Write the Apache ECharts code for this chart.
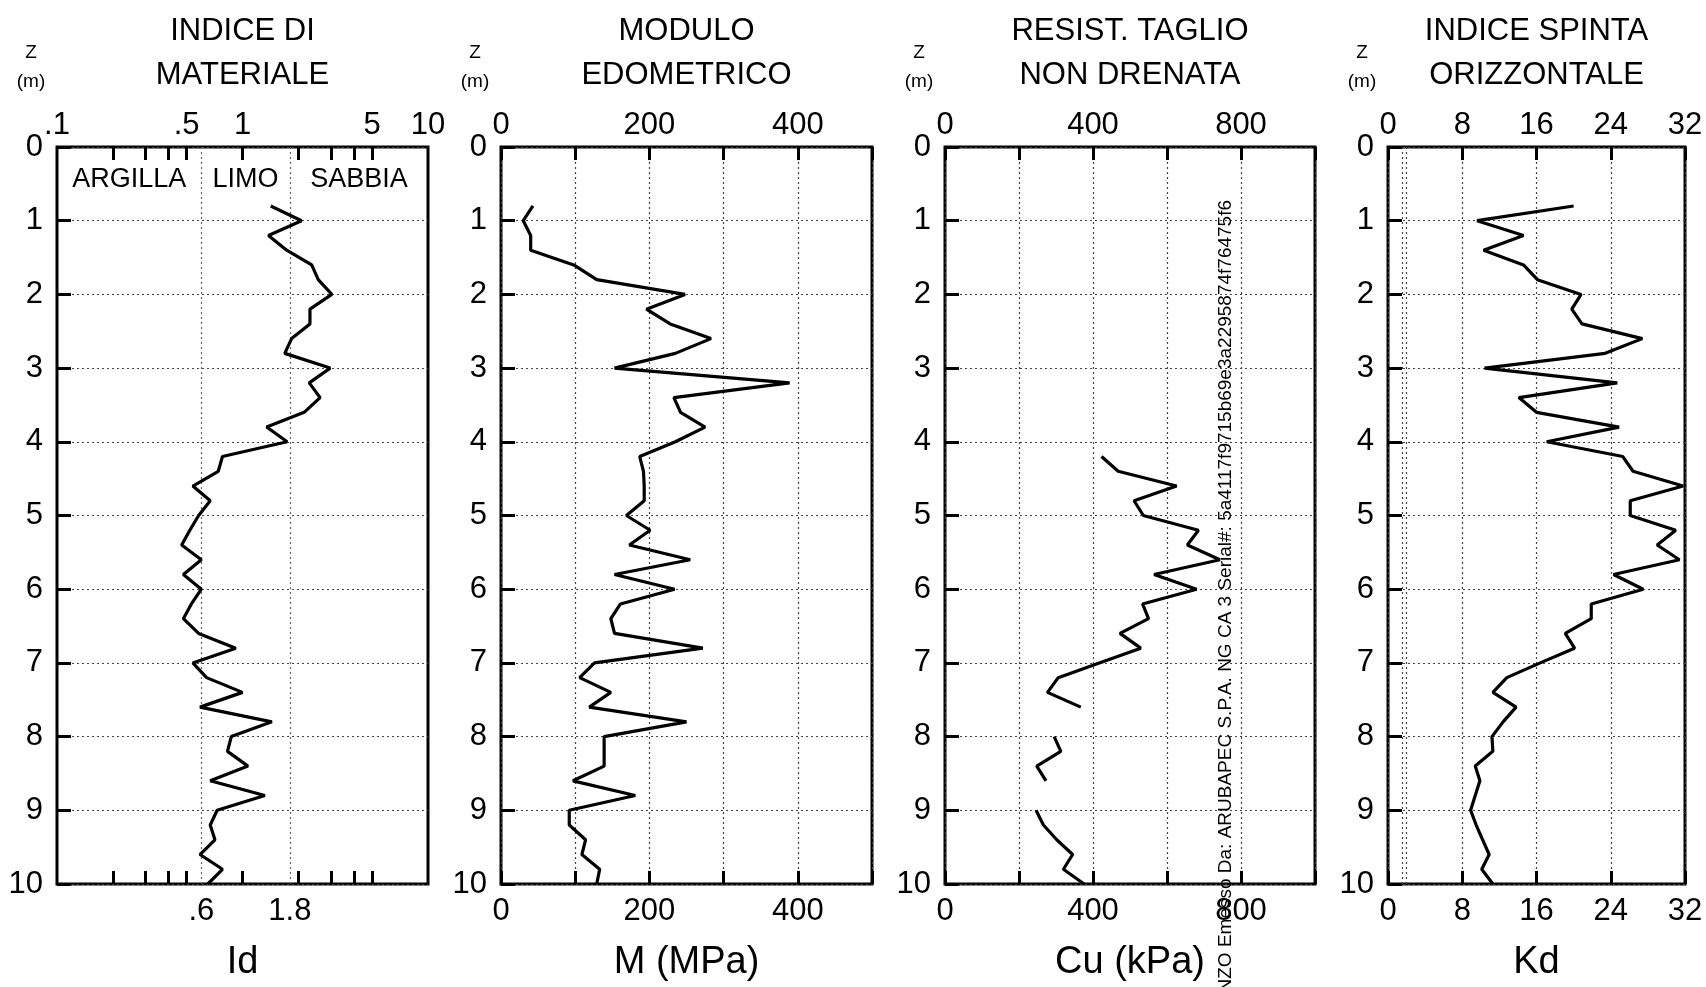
<!DOCTYPE html>
<html>
<head>
<meta charset="utf-8">
<title>Prova DMT</title>
<script src="https://cdn.jsdelivr.net/npm/echarts@6/dist/echarts.min.js"></script>
<style>
  html, body { margin: 0; padding: 0; background: #fff; }
  #chart { width: 1706px; height: 987px; }
</style>
</head>
<body>
<div id="chart"></div>
<script>
// profondita' (m)
const depth = [0.8, 1.0, 1.2, 1.4, 1.6, 1.8, 2.0, 2.2, 2.4, 2.6, 2.8, 3.0, 3.2, 3.4, 3.6, 3.8, 4.0,
  4.2, 4.4, 4.6, 4.8, 5.0, 5.2, 5.4, 5.6, 5.8, 6.0, 6.2, 6.4, 6.6, 6.8, 7.0, 7.2, 7.4, 7.6, 7.8,
  8.0, 8.2, 8.4, 8.6, 8.8, 9.0, 9.2, 9.4, 9.6, 9.8, 10.0]

// indice di materiale Id
const idValues = [1.42, 2.08, 1.38, 1.73, 2.36, 2.56, 3.03, 2.31, 2.31, 1.84, 1.69, 2.97, 2.29, 2.62, 2.15, 1.35, 1.74,
  0.78, 0.74, 0.54, 0.67, 0.58, 0.52, 0.47, 0.60, 0.48, 0.60, 0.53, 0.48, 0.58, 0.92, 0.54, 0.64, 1.00, 0.59, 1.44,
  0.87, 0.83, 1.07, 0.67, 1.32, 0.73, 0.67, 0.71, 0.59, 0.78, 0.65]

// modulo edometrico M (MPa)
const mValues = [43, 30, 40, 40, 98, 129, 248, 196, 228, 283, 235, 153, 389, 233, 242, 275, 235,
  187, 192, 193, 193, 169, 201, 173, 255, 153, 234, 161, 148, 153, 272, 126, 106, 148, 119, 250,
  139, 139, 139, 97, 181, 92, 92, 114, 109, 133, 129]

// resistenza al taglio non drenata Cu (kPa), null = non calcolata
const cuValues = [null, null, null, null, null, null, null, null, null, null, null, null, null, null, null, null, null,
  423, 468, 626, 511, 536, 685, 655, 743, 565, 680, 534, 550, 473, 529, 417, 306, 277, 367, null,
  295, 313, 248, 273, null, 246, 266, 302, 345, 320, 376]

// indice di spinta orizzontale Kd
const kdValues = [20.0, 9.6, 14.6, 10.3, 14.6, 16.1, 20.8, 19.8, 20.9, 27.4, 23.4, 10.4, 24.7, 14.1, 16.0, 24.9, 17.1,
  25.3, 26.4, 31.8, 26.1, 26.1, 31.0, 29.0, 31.4, 24.3, 27.5, 21.9, 21.9, 19.1, 20.1, 16.4, 12.8, 11.3, 13.8, 12.4,
  11.2, 11.3, 9.4, 9.9, 9.4, 8.9, 9.5, 10.2, 10.9, 10.1, 11.3]

// scala logaritmica Id: tacche ed etichette
const idTicks = [0.2, 0.3, 0.4, 0.5, 1, 2, 3, 4, 5]
const idTopLabels = [0.1, 0.5, 1, 5, 10]
const idBottomLabels = [0.6, 1.8]
const idZones = [['ARGILLA', 0.1, 0.6], ['LIMO', 0.6, 1.8], ['SABBIA', 1.8, 10]]
const kdRefLines = [1.5, 2]

const titles = [['INDICE DI', 'MATERIALE'], ['MODULO', 'EDOMETRICO'], ['RESIST. TAGLIO', 'NON DRENATA'], ['INDICE SPINTA', 'ORIZZONTALE']]
const axisNames = ['Id', 'M (MPa)', 'Cu (kPa)', 'Kd']
const watermark = 'ENZO Emesso Da: ARUBAPEC S.P.A. NG CA 3 Serial#: 5a4117f9715b69e3a2295874f76475f6'

const FONT = "'Liberation Sans', Arial, sans-serif"
const TOP = 147
const HEIGHT = 738
const panels = [
  { left: 57, width: 371 },
  { left: 501, width: 371 },
  { left: 945, width: 370 },
  { left: 1388, width: 297 }
]

const toPairs = (vals) => depth.map((z, i) => (vals[i] == null ? ['-', z] : [vals[i], z]))
const fmtId = (v) => {
  const n = +Number(v).toPrecision(3)
  return n < 1 ? String(n).replace(/^0/, '') : String(n)
}

const dotted = { color: '#444', type: [2, 3], width: 1.2 }
const tickStyle = { inside: true, length: 13, lineStyle: { color: '#000', width: 3 } }
const labelStyle = { color: '#000', fontSize: 31, fontFamily: FONT }

const grid = panels.map((p) => ({
  left: p.left, top: TOP, width: p.width, height: HEIGHT,
  show: true, borderColor: '#000', borderWidth: 3, backgroundColor: '#fff'
}))

const yAxis = panels.map((p, gi) => ({
  type: 'value', gridIndex: gi, inverse: true, min: 0, max: 10, interval: 1,
  axisLine: { show: false },
  axisTick: { inside: true, length: 14, lineStyle: { color: '#000', width: 3 } },
  axisLabel: { ...labelStyle, margin: 14 },
  splitLine: { show: true, lineStyle: dotted }
}))

const valueScales = [
  null,
  { max: 500, interval: 100, step: 200 },
  { max: 1000, interval: 200, step: 400 },
  { max: 32, interval: 8, step: 8 }
]

const xAxis = []
panels.forEach((p, gi) => {
  ['top', 'bottom'].forEach((pos) => {
    const isTop = pos === 'top'
    const ax = {
      gridIndex: gi, position: pos,
      axisLine: { show: false },
      axisLabel: { ...labelStyle, margin: isTop ? 6 : 12 },
      axisTick: { ...tickStyle }
    }
    if (!isTop) {
      ax.name = axisNames[gi]
      ax.nameLocation = 'middle'
      ax.nameGap = 60
      ax.nameTextStyle = { color: '#000', fontSize: 38, fontFamily: FONT }
    }
    if (gi === 0) {
      Object.assign(ax, { type: 'log', logBase: 10, min: 0.1, max: 10, splitLine: { show: false } })
      ax.axisTick.customValues = idTicks
      ax.axisLabel.customValues = isTop ? idTopLabels : idBottomLabels
      ax.axisLabel.formatter = fmtId
    } else {
      const s = valueScales[gi]
      Object.assign(ax, { type: 'value', min: 0, max: s.max, interval: s.interval })
      ax.axisLabel.formatter = (v) => (v % s.step === 0 ? String(v) : '')
      ax.splitLine = { show: isTop, lineStyle: dotted }
    }
    xAxis.push(ax)
  })
})

const lineSeries = (gi, vals) => ({
  type: 'line', xAxisIndex: gi * 2, yAxisIndex: gi,
  data: toPairs(vals), showSymbol: false, symbol: 'none',
  connectNulls: false, z: 5,
  lineStyle: { color: '#000', width: 3.2 }
})

const series = [
  {
    ...lineSeries(0, idValues),
    markLine: {
      silent: true, symbol: 'none', label: { show: false },
      lineStyle: { color: '#666', type: [2, 3], width: 1.2 },
      data: idBottomLabels.map((v) => ({ xAxis: v }))
    },
    markArea: {
      silent: true,
      itemStyle: { color: 'rgba(0,0,0,0)' },
      label: { show: true, position: 'insideTop', distance: 19, color: '#000', fontSize: 27, fontFamily: FONT },
      data: idZones.map((zn) => [{ name: zn[0], xAxis: zn[1] }, { xAxis: zn[2] }])
    }
  },
  lineSeries(1, mValues),
  lineSeries(2, cuValues),
  {
    ...lineSeries(3, kdValues),
    markLine: {
      silent: true, symbol: 'none', label: { show: false },
      lineStyle: { color: '#444', type: [2, 3], width: 1.2 },
      data: kdRefLines.map((v) => ({ xAxis: v }))
    }
  }
]

const graphic = []
panels.forEach((p, gi) => {
  const cx = p.left + p.width / 2
  titles[gi].forEach((t, li) => {
    graphic.push({
      type: 'text', x: cx, y: 31 + li * 44,
      style: { text: t, font: '31px ' + FONT, fill: '#000', textAlign: 'center', textVerticalAlign: 'middle', align: 'center', verticalAlign: 'middle' }
    })
  })
  ;[['Z', 53], ['(m)', 82]].forEach(([t, y]) => {
    graphic.push({
      type: 'text', x: p.left - 26, y: y,
      style: { text: t, font: '19px ' + FONT, fill: '#000', textAlign: 'center', textVerticalAlign: 'middle', align: 'center', verticalAlign: 'middle' }
    })
  })
})
graphic.push({
  type: 'text', x: 1226, y: 200, rotation: Math.PI / 2, z: 10,
  style: { text: watermark, font: '19px ' + FONT, fill: '#000', textAlign: 'right', textVerticalAlign: 'middle', align: 'right', verticalAlign: 'middle' }
})

const chart = echarts.init(document.getElementById('chart'))
chart.setOption({
  animation: false,
  backgroundColor: '#fff',
  grid, xAxis, yAxis, series, graphic
})
</script>
</body>
</html>
